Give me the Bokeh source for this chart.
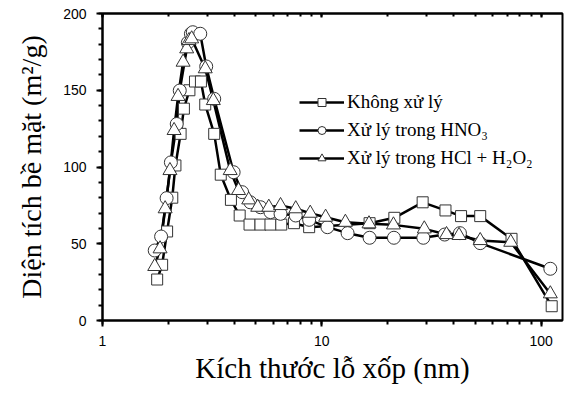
from bokeh.plotting import figure
from bokeh.models import (Legend, LegendItem, LogAxis, SingleIntervalTicker,
                          LogTicker, NumeralTickFormatter, Range1d)
from bokeh.embed import file_html
from bokeh.resources import INLINE

# Không xử lý
x_raw = [1.775, 1.87, 1.97, 2.08, 2.15, 2.27, 2.35, 2.49, 2.64, 2.81, 2.94, 3.23, 3.46,
         3.85, 4.22, 4.68, 5.25, 5.83, 6.53, 7.46, 8.75, 16.5, 21.4, 28.8, 36.6, 43.1,
         52.7, 73.2, 111.6]
y_raw = [26.7, 36.3, 58.0, 80.0, 101.0, 121.6, 138.0, 150.0, 155.7, 155.7, 140.7, 121.6, 95.0,
         78.6, 68.4, 62.5, 62.5, 62.5, 62.5, 63.4, 60.8, 63.4, 66.9, 77.0, 71.7, 68.0,
         68.0, 53.2, 9.3]

# Xử lý trong HNO3
x_hno3 = [1.73, 1.85, 1.96, 2.05, 2.18, 2.25, 2.45, 2.53, 2.58, 2.79, 2.97, 3.23, 3.96,
          4.33, 4.72, 5.25, 5.83, 6.48, 7.6, 8.75, 10.6, 13.1, 16.5, 21.3, 29.0, 36.3,
          42.6, 52.7, 110.0]
y_hno3 = [45.6, 54.7, 79.7, 103.0, 128.0, 149.8, 181.0, 186.8, 187.8, 186.8, 165.5, 144.4, 96.6,
          83.6, 77.0, 73.8, 70.6, 69.5, 68.4, 65.6, 60.8, 56.9, 53.9, 53.9, 53.9, 56.0,
          56.9, 50.4, 33.7]

# Xử lý trong HCl + H2O2
x_hcl = [1.73, 1.83, 1.93, 2.03, 2.12, 2.21, 2.33, 2.42, 2.48, 2.55, 2.94, 3.2, 3.82,
         4.17, 4.64, 5.1, 5.73, 6.48, 7.6, 8.85, 10.4, 12.8, 16.4, 21.2, 29.3, 37.0,
         42.2, 52.7, 72.6, 110.0]
y_hcl = [35.2, 46.7, 72.8, 97.7, 123.8, 146.0, 168.3, 177.0, 182.4, 183.5, 164.0, 143.3, 97.7,
         84.7, 78.6, 73.8, 73.8, 74.9, 72.8, 69.9, 67.3, 64.0, 63.0, 62.3, 59.7, 56.0,
         55.4, 52.1, 51.0, 17.4]

labels = ["Không xử lý", "Xử lý trong HNO₃", "Xử lý trong HCl + H₂O₂"]
y_ticks_interval = 50
x_title = "Kích thước lỗ xốp (nm)"
y_title = "Diện tích bề mặt (m²/g)"

SERIF = "Liberation Serif"
SANS = "Liberation Sans"

p = figure(width=564, height=386, x_axis_type="log",
           x_range=Range1d(1, 125), y_range=Range1d(0, 200),
           output_backend="svg", toolbar_location=None,
           min_border_left=102, min_border_right=2, min_border_top=13, min_border_bottom=66)

p.grid.visible = False
p.background_fill_color = "white"
p.outline_line_color = "black"
p.outline_line_width = 2

xa = p.xaxis[0]
xa.ticker = LogTicker(num_minor_ticks=10)
xa.formatter = NumeralTickFormatter(format="0")
ya = p.yaxis[0]
ya.ticker = SingleIntervalTicker(interval=y_ticks_interval, num_minor_ticks=5)
for ax in (xa, ya):
    ax.axis_line_width = 2
    ax.axis_line_color = "black"
    ax.major_tick_line_width = 2
    ax.minor_tick_line_width = 2
    ax.major_tick_line_color = "black"
    ax.minor_tick_line_color = "black"
    ax.major_tick_in = 0
    ax.minor_tick_in = 0
    ax.major_tick_out = 6
    ax.minor_tick_out = 4
    ax.major_label_text_font = SANS
    ax.major_label_text_font_size = "14px"
    ax.major_label_text_color = "black"
    ax.axis_label_text_font = SERIF
    ax.axis_label_text_font_style = "normal"
    ax.axis_label_text_color = "black"
xa.axis_label_text_font_size = "29px"
ya.axis_label_text_font_size = "28px"
xa.major_label_standoff = 9
ya.major_label_standoff = 10
xa.axis_label = x_title
ya.axis_label = y_title
xa.axis_label_standoff = 3
ya.axis_label_standoff = 13

top = LogAxis(ticker=LogTicker(num_minor_ticks=10),
              major_tick_in=4, major_tick_out=0, minor_tick_in=3, minor_tick_out=0,
              axis_line_width=2, major_tick_line_width=2, minor_tick_line_width=2,
              major_label_text_alpha=0, major_label_text_font_size="1px",
              major_label_standoff=0)
p.add_layout(top, "above")

line_kw = dict(line_color="black", line_width=2.5)
r1 = p.line(x_raw, y_raw, **line_kw)
r2 = p.line(x_hno3, y_hno3, **line_kw)
r3 = p.line(x_hcl, y_hcl, **line_kw)

mk = dict(fill_color="white", line_color="#333333", line_width=1)
m1 = p.scatter(x_raw, y_raw, marker="square", size=11, **mk)
m2 = p.scatter(x_hno3, y_hno3, marker="circle", size=13, **mk)
m3 = p.scatter(x_hcl, y_hcl, marker="triangle", size=14, **mk)

legend = Legend(items=[LegendItem(label=labels[0], renderers=[r1, m1]),
                       LegendItem(label=labels[1], renderers=[r2, m2]),
                       LegendItem(label=labels[2], renderers=[r3, m3])],
                location=(197, 151), glyph_width=45, glyph_height=20, label_height=20,
                label_standoff=3, spacing=6, padding=0, margin=0,
                border_line_color=None, background_fill_alpha=0,
                label_text_font=SERIF, label_text_font_size="19px", label_text_color="black")
p.add_layout(legend, "center")

open("out.html", "w").write(file_html(p, INLINE))
